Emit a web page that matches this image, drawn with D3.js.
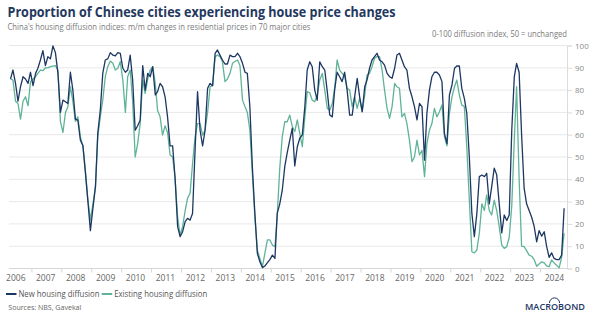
<!DOCTYPE html>
<html>
<head>
<meta charset="utf-8">
<script src="https://cdn.jsdelivr.net/npm/d3@7"></script>
<style>
  body { margin: 0; background: #fff; }
  svg { display: block; font-family: "Open Sans", "Noto Sans", sans-serif; }
</style>
</head>
<body>
<svg width="601" height="321"></svg>
<script>
// monthly series, first value = April 2006, last = October 2024
var startYear = 2006, startMonth = 3;

var newHousing = [
  85, 89, 83, 75, 81.5, 86, 85, 83, 88,                          // 2006
  82, 87.5, 89.8, 93.5, 97.7, 91, 95, 94, 99.8, 96.8, 87.5, 70,  // 2007
  75.5, 74.8, 74, 88, 80, 67, 66.5, 57.5, 55, 43, 30, 17,        // 2008
  27, 36.7, 60.6, 71, 87.5, 93.5, 94, 96.8, 95.7, 95.3, 96.8, 96.5, // 2009
  89.8, 88, 89, 95.7, 84.5, 62, 64, 66.5, 91, 80, 87.5, 86,      // 2010
  90.5, 77.8, 79.3, 83, 81.5, 77, 68, 55, 55, 40.5, 18.8, 14.3,  // 2011
  16.5, 21, 22.5, 21.7, 24.7, 53, 79.3, 62, 55, 62, 80.8, 83,    // 2012
  82, 96.5, 98, 95.7, 93.5, 91.7, 91.7, 95.7, 95, 95, 96.5, 95,  // 2013
  92, 88, 87.5, 72.5, 45.7, 24.7, 6.8, 3, 0.4, 1.1, 2.6, 4,      // 2014
  6, 4.5, 24.7, 29, 35, 45.7, 52, 57.6, 62.9, 46, 54.6, 58.4,    // 2015
  59.9, 72.6, 89, 92.7, 90.5, 80, 75.5, 92.7, 90.5, 89, 79.3, 68.8, // 2016
  68, 80.8, 88, 86, 83.8, 88, 80, 68.8, 68.8, 77, 85.3, 77,      // 2017
  70.3, 81.5, 84.5, 89.8, 93.5, 95, 96.5, 93.5, 92.7, 91.2, 87.5, 86, // 2018
  85.3, 89.8, 95.7, 96.5, 93.5, 90.5, 89, 80.8, 77, 72.6, 66.6, 74,   // 2019
  72.6, 48.6, 69.6, 80, 86, 88, 88, 86.8, 83.8, 60.6, 56, 77.8,  // 2020
  82.3, 89.8, 90.8, 90.8, 80.8, 76.3, 69.6, 50, 24.7, 14.3, 24.7, 41.2, // 2021
  41.9, 41.2, 42.7, 29, 36.7, 45, 42, 29, 16, 24, 21.5, 24,      // 2022
  62, 86, 92, 88, 60, 36, 29, 26, 23, 19, 12, 17,                // 2023
  14.5, 16.5, 10, 5, 7, 4.5, 4, 4, 6, 27                         // 2024
];

var existingHousing = [
  85, 84.5, 75, 74, 67, 75, 77, 73, 83.8,                        // 2006
  85, 86, 87.5, 89, 88.7, 90, 90, 90.5, 90.8, 91, 89, 66,        // 2007
  61, 70, 72.5, 81.5, 75, 66, 68, 59, 55, 44, 30.7, 21.7,        // 2008
  29, 36.7, 59, 68, 75.5, 86, 90.5, 93, 92, 89, 89.8, 92.8,      // 2009
  84.5, 70, 86, 89, 75, 50, 56, 65, 84.5, 78.5, 85, 89,          // 2010
  90.5, 83, 71, 68, 59.8, 64, 61, 50.9, 50, 40.5, 23, 15,        // 2011
  18.8, 26, 31.5, 33.7, 47, 59, 65, 65, 59.8, 62, 70, 81.5,      // 2012
  82, 95, 95.7, 95, 92.8, 83.8, 85, 87.5, 92, 92.8, 93.5, 91,    // 2013
  75.5, 72.5, 70, 62, 42.7, 23, 8.3, 4.5, 0.8, 6.8, 12.8, 12.8,  // 2014
  10.5, 9.8, 24, 45, 59, 65.8, 65.8, 68.8, 63.6, 61.4, 66.6, 60.6, // 2015
  54.6, 68, 79.3, 78.8, 75.5, 74.8, 77.8, 84.5, 87.5, 80, 71.8, 71, // 2016
  74, 81.5, 93.5, 89, 87.5, 86, 80.8, 80, 72.6, 77, 71.8, 76.3,  // 2017
  70.3, 77.8, 86.8, 87.5, 90.5, 94.3, 95, 95, 89, 80, 71.8, 67.3, // 2018
  72.6, 83, 81.5, 80.8, 68, 69.6, 65, 57.6, 47.9, 50, 57.6, 50.9, // 2019
  53, 41.2, 56, 62, 65, 71.8, 68, 70.3, 73.3, 59, 55, 69.6,      // 2020
  77, 81.5, 84.5, 77.8, 73.3, 72.6, 54.6, 30.7, 7.5, 7, 8.3, 15.8, // 2021
  29, 26, 33, 26, 24, 30.7, 26, 18.8, 10.5, 9, 9.8, 14,          // 2022
  28, 58, 81.5, 40, 10, 9.8, 8, 6, 5.5, 4, 1, 2,                 // 2023
  3, 2.5, 1.2, 0.8, 3.8, 2.5, 1.5, 0.3, 5, 15.8                  // 2024
];

var yTicks = [0, 10, 20, 30, 40, 50, 60, 70, 80, 90, 100];
var yearLabels = d3.range(2006, 2025);
var seriesNames = ["New housing diffusion", "Existing housing diffusion"];
var seriesColors = ["#1d3763", "#5fb398"];

var svg = d3.select("svg");
var plotLeft = 9, plotRight = 567, plotTop = 45.5, plotBottom = 268.5;

var x = d3.scaleTime()
    .domain([new Date(2006, 0, 1), new Date(2025, 0, 1)])
    .range([2, 570.5]);
var y = d3.scaleLinear().domain([0, 100]).range([plotBottom, plotTop]);

function toPoints(arr) {
  return arr.map(function(v, i) {
    return { date: new Date(startYear, startMonth + i, 15), v: v };
  });
}

// grid
svg.append("g")
  .selectAll("line")
  .data(yTicks.filter(function(d) { return d > 0; }))
  .enter().append("line")
    .attr("x1", plotLeft).attr("x2", plotRight)
    .attr("y1", function(d) { return y(d); })
    .attr("y2", function(d) { return y(d); })
    .attr("stroke", "#e8e8e8").attr("stroke-width", 1);

// right axis
var yAxis = svg.append("g")
    .attr("transform", "translate(" + plotRight + ",0)")
    .call(d3.axisRight(y).tickValues(yTicks).tickSize(5).tickPadding(3));
yAxis.select(".domain").attr("stroke", "#dcdcdc");
yAxis.selectAll(".tick line").attr("stroke", "#dcdcdc");
yAxis.selectAll(".tick text")
    .attr("fill", "#8a8a8a")
    .style("font-size", "8px")
    .style("font-family", "'Open Sans', sans-serif");

// bottom axis
svg.append("line")
    .attr("x1", plotLeft).attr("x2", plotRight)
    .attr("y1", plotBottom).attr("y2", plotBottom)
    .attr("stroke", "#d6d6d6");
svg.append("g")
  .selectAll("line")
  .data(yearLabels.slice(1).map(function(yr) { return new Date(yr, 0, 1); }))
  .enter().append("line")
    .attr("x1", function(d) { return x(d); })
    .attr("x2", function(d) { return x(d); })
    .attr("y1", plotBottom).attr("y2", plotBottom + 4)
    .attr("stroke", "#d6d6d6");
svg.append("g")
  .selectAll("text")
  .data(yearLabels)
  .enter().append("text")
    .attr("x", function(yr) { return x(new Date(yr, 6, 1)) - 1; })
    .attr("y", 281)
    .attr("text-anchor", "middle")
    .attr("fill", "#666")
    .style("font-size", "8.5px")
    .text(function(yr) { return yr; });

// lines
svg.append("clipPath").attr("id", "plot")
  .append("rect").attr("x", plotLeft).attr("y", 0)
  .attr("width", plotRight - plotLeft).attr("height", plotBottom + 2);

var line = d3.line()
    .x(function(d) { return x(d.date); })
    .y(function(d) { return y(d.v); });

svg.append("path")
    .datum(toPoints(existingHousing))
    .attr("clip-path", "url(#plot)")
    .attr("fill", "none")
    .attr("stroke", seriesColors[1])
    .attr("stroke-width", 1.3)
    .attr("stroke-linejoin", "round")
    .attr("d", line);

svg.append("path")
    .datum(toPoints(newHousing))
    .attr("clip-path", "url(#plot)")
    .attr("fill", "none")
    .attr("stroke", seriesColors[0])
    .attr("stroke-width", 1.3)
    .attr("stroke-linejoin", "round")
    .attr("d", line);

// titles
svg.append("text")
    .attr("x", 7.5).attr("y", 17.3)
    .attr("fill", "#24385e")
    .style("font-size", "13.3px").style("font-weight", 700)
    .attr("textLength", 388).attr("lengthAdjust", "spacingAndGlyphs")
    .text("Proportion of Chinese cities experiencing house price changes");
svg.append("text")
    .attr("x", 7.5).attr("y", 30)
    .attr("fill", "#7a7a7a")
    .style("font-size", "8.2px")
    .attr("textLength", 303).attr("lengthAdjust", "spacingAndGlyphs")
    .text("China's housing diffusion indices: m/m changes in residential prices in 70 major cities");
svg.append("text")
    .attr("x", plotRight).attr("y", 37)
    .attr("text-anchor", "end")
    .attr("fill", "#7a7a7a")
    .style("font-size", "8.2px")
    .attr("textLength", 135).attr("lengthAdjust", "spacingAndGlyphs")
    .text("0-100 diffusion index, 50 = unchanged");

// legend
var legendX = [6, 101.7], legendW = [81, 93];
seriesNames.forEach(function(name, i) {
  svg.append("line")
      .attr("x1", legendX[i]).attr("x2", legendX[i] + 10.5)
      .attr("y1", 294).attr("y2", 294)
      .attr("stroke", seriesColors[i]).attr("stroke-width", 2);
  svg.append("text")
      .attr("x", legendX[i] + 12.5).attr("y", 297)
      .attr("fill", "#555")
      .style("font-size", "8.2px")
      .attr("textLength", legendW[i]).attr("lengthAdjust", "spacingAndGlyphs")
      .text(name);
});

svg.append("text")
    .attr("x", 8.3).attr("y", 310)
    .attr("fill", "#666")
    .style("font-size", "7.2px")
    .attr("textLength", 73).attr("lengthAdjust", "spacingAndGlyphs")
    .text("Sources: NBS, Gavekal");

// logo
var logo = svg.append("text")
    .attr("x", 525).attr("y", 310)
    .attr("fill", "#1d3763")
    .style("font-size", "9.5px").style("font-weight", 600)
    .attr("textLength", 60).attr("lengthAdjust", "spacingAndGlyphs")
    .text("MACROBOND");
var oBox = logo.node().getExtentOfChar(4);
var cx = oBox.x + oBox.width / 2, r = oBox.width / 2 + 1.5;
svg.append("path")
    .attr("d", "M" + (cx - r) + "," + 303 + " A" + r + "," + r + " 0 0 1 " + (cx + r) + "," + 303)
    .attr("fill", "none")
    .attr("stroke", "#1d3763").attr("stroke-width", 1);
</script>
</body>
</html>
